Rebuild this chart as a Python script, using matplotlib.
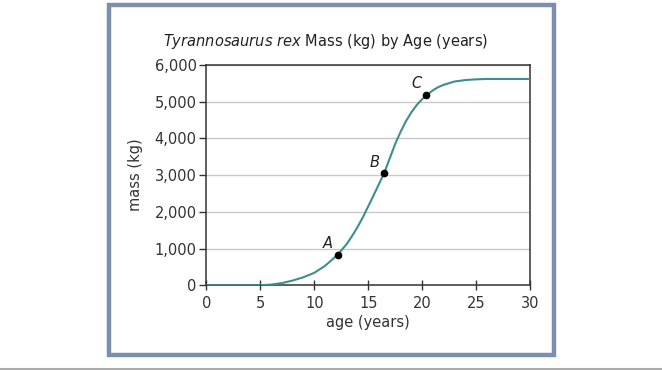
import numpy as np
import matplotlib
matplotlib.use("Agg")
import matplotlib.pyplot as plt
from matplotlib.patches import Rectangle
from matplotlib.lines import Line2D

# growth curve
age = [0, 5, 6, 7, 8, 9, 10, 11, 12, 12.5, 13, 13.5, 14, 14.5, 15, 15.5, 16, 16.5,
       17, 17.5, 18, 18.5, 19, 19.5, 20, 20.5, 21, 21.5, 22, 23, 24, 25, 26, 30]
mass = [0, 0, 20, 60, 130, 220, 340, 530, 790, 950, 1120, 1340, 1580, 1850, 2150, 2450,
        2760, 3070, 3460, 3850, 4180, 4470, 4710, 4910, 5070, 5200, 5310, 5400, 5460,
        5550, 5590, 5610, 5620, 5620]

# labelled points
point_names = ["A", "B", "C"]
point_age = [12.2, 16.5, 20.4]
point_mass = [830, 3050, 5190]

x_ticks = [0, 5, 10, 15, 20, 25, 30]
y_ticks = [0, 1000, 2000, 3000, 4000, 5000, 6000]

fig = plt.figure(figsize=(6.62, 3.70), dpi=100)
ax = fig.add_axes([0.3118, 0.2289, 0.4888, 0.5954])

ax.plot(age, mass, color="#3e8e8f", lw=1.5, zorder=3)
ax.plot(point_age, point_mass, "o", color="black", ms=4.5, zorder=4)
for name, x, y in zip(point_names, point_age, point_mass):
    ax.annotate(name, (x, y), xytext=(-7, 8), textcoords="offset points",
                ha="center", va="center", fontsize=10.5, style="italic", color="#222")

ax.set_xlim(0, 30)
ax.set_ylim(0, 6000)
ax.set_xticks(x_ticks)
ax.set_yticks(y_ticks)
ax.set_yticklabels([f"{v:,}" for v in y_ticks])
ax.yaxis.grid(True, color="#c8c8c8", lw=1)
ax.set_axisbelow(True)

for s in ax.spines.values():
    s.set_color("#333333")
    s.set_linewidth(1.1)
ax.tick_params(axis="x", direction="inout", length=7.5, width=1, color="#333333",
               labelsize=10.5, labelcolor="#333333", pad=4)
ax.tick_params(axis="y", direction="out", length=5, width=1, color="#333333",
               labelsize=10.5, labelcolor="#333333", pad=2)

ax.set_xlabel("age (years)", fontsize=10.5, color="#333333", labelpad=3)
ax.set_ylabel("mass (kg)", fontsize=10.5, color="#333333", labelpad=8)

fig.text(0.491, 0.889, r"$\it{Tyrannosaurus\ rex}$ Mass (kg) by Age (years)",
         ha="center", va="center", fontsize=10.5, color="#222222")

# frame around the figure
fig.patches.append(Rectangle((0.1647, 0.0405), 0.8369 - 0.1647, 0.9865 - 0.0405,
                             transform=fig.transFigure, fill=False,
                             edgecolor="#7a8fae", lw=3.2))
fig.lines.append(Line2D([0, 1], [0.003, 0.003], transform=fig.transFigure,
                        color="#aaaaaa", lw=1.5))

fig.savefig("out.png", dpi=100)
